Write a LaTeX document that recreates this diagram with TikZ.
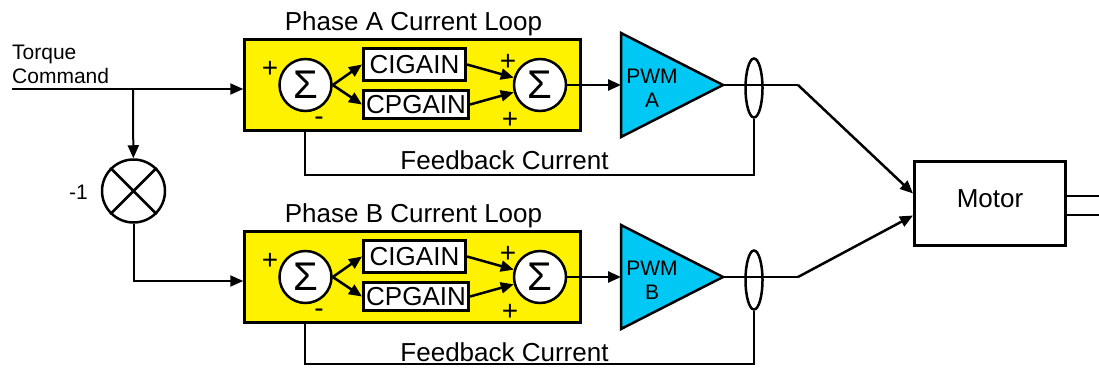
\documentclass[tikz,border=0pt]{standalone}
\usepackage{fontspec}
\setmainfont{Liberation Sans}
\usetikzlibrary{calc, positioning, shapes.geometric, arrows.meta}

\definecolor{pwmblue}{RGB}{0,200,245}

\tikzset{
	wire/.style = {line width=2.5pt},
	sig/.style = {wire, -{Triangle[length=13pt, width=11pt]}},
	loopbox/.style = {draw, fill=yellow, line width=2.5pt, minimum width=336, minimum height=91},
	gainbox/.style = {draw, fill=white, line width=3pt, inner sep=0pt, font=\fontsize{26}{26}\selectfont},
	sumnode/.style = {circle, draw, fill=white, line width=2.5pt, minimum size=52, inner sep=0pt, font=\fontsize{40}{40}\selectfont},
	signtxt/.style = {font=\fontsize{28}{28}\selectfont, inner sep=0pt},
	labeltxt/.style = {font=\fontsize{26}{26}\selectfont, inner sep=0pt, anchor=base},
	smalltxt/.style = {font=\fontsize{21}{24}\selectfont, inner sep=0pt},
	probering/.style = {ellipse, draw, line width=2.5pt, minimum width=17, minimum height=59, inner sep=0pt},
	pwmamp/.style = {draw, fill=pwmblue, line width=2.5pt, line join=miter}
}

\begin{document}
\begin{tikzpicture}[x=1pt, y=-1pt]
	\useasboundingbox (0,0) rectangle (1099,367);
	
	%torque command and inverter
	\coordinate (tq) at (12,89);
	\coordinate (br) at (133,89);
	\node [smalltxt, align=left, anchor=north west] (tqtxt) at (12,45) {Torque\\Command};
	\node [circle, draw, line width=2.5pt, minimum size=63] (mult) at (133.5,191) {};
	\draw [wire] (mult.45) -- (mult.225) (mult.135) -- (mult.-45);
	\node [smalltxt] (neg) at (78.5,192) {-1};
	
	%phase A current loop
	\node [loopbox] (loopA) at (412.5,85) {};
	\node [labeltxt] (titleA) at (413.5,30) {Phase A Current Loop};
	\node [sumnode] (s1A) at (305.5,85) {Σ};
	\node [sumnode] (s2A) at (540,85) {Σ};
	\node [gainbox, minimum width=102, minimum height=32] (ciA) at (414.5,64.5) {CIGAIN};
	\node [gainbox, minimum width=105, minimum height=28] (cpA) at (416,104.5) {CPGAIN};
	\node [signtxt] (pA1) at (270,69) {+};
	\node [signtxt] (mA) at (319,121) {-};
	\node [signtxt] (pA2) at (508,62) {+};
	\node [signtxt] (pA3) at (510,120) {+};
	\draw [sig] (s1A.east) -- (ciA.west);
	\draw [sig] (s1A.east) -- (cpA.west);
	\draw [sig] (ciA.east) -- (s2A);
	\draw [sig] (cpA.east) -- (s2A);
	
	%PWM A and current sensor
	\coordinate (pwmAin) at (621,85);
	\coordinate (pwmAout) at (723,85);
	\draw [pwmamp] (621,33) -- (pwmAout) -- (621,137) -- cycle;
	\node [smalltxt, align=center] (pwmA) at (652,88) {PWM\\A};
	\draw [sig] (s2A.east) -- (pwmAin);
	\node [probering] (ctA) at (754,88) {};
	\coordinate (kA) at (798,85);
	\draw [wire] (pwmAout) -- (kA);
	
	%feedback A
	\coordinate (fbA) at (305,175);
	\draw [wire] (ctA.south) |- (fbA) -- (fbA |- loopA.south);
	\node [labeltxt] (fbtxtA) at (504.5,169) {Feedback Current};
	
	%phase B current loop
	\node [loopbox] (loopB) at (412.5,277) {};
	\node [labeltxt] (titleB) at (413.5,222) {Phase B Current Loop};
	\node [sumnode] (s1B) at (305.5,277) {Σ};
	\node [sumnode] (s2B) at (540,277) {Σ};
	\node [gainbox, minimum width=102, minimum height=32] (ciB) at (414.5,256.5) {CIGAIN};
	\node [gainbox, minimum width=105, minimum height=28] (cpB) at (416,296.5) {CPGAIN};
	\node [signtxt] (pB1) at (270,261) {+};
	\node [signtxt] (mB) at (319,313) {-};
	\node [signtxt] (pB2) at (508,254) {+};
	\node [signtxt] (pB3) at (510,312) {+};
	\draw [sig] (s1B.east) -- (ciB.west);
	\draw [sig] (s1B.east) -- (cpB.west);
	\draw [sig] (ciB.east) -- (s2B);
	\draw [sig] (cpB.east) -- (s2B);
	
	%PWM B and current sensor
	\coordinate (pwmBin) at (621,277);
	\coordinate (pwmBout) at (723,277);
	\draw [pwmamp] (621,225) -- (pwmBout) -- (621,329) -- cycle;
	\node [smalltxt, align=center] (pwmB) at (652,280) {PWM\\B};
	\draw [sig] (s2B.east) -- (pwmBin);
	\node [probering] (ctB) at (754,280) {};
	\coordinate (kB) at (798,277);
	\draw [wire] (pwmBout) -- (kB);
	
	%feedback B
	\coordinate (fbB) at (305,364);
	\draw [wire] (ctB.south) |- (fbB) -- (fbB |- loopB.south);
	\node [labeltxt] (fbtxtB) at (504.5,361) {Feedback Current};
	
	%command paths
	\draw [wire, line width=2pt] (tq) -- (br);
	\draw [sig, line width=2pt] (br) -- (tq -| loopA.west);
	\draw [sig, line width=2pt] (br) -- (mult);
	\draw [sig, line width=2pt] (mult.south) |- ($(loopB.west)+(0,4)$);
	
	%motor
	\node [draw, line width=3pt, minimum width=151, minimum height=84, text depth=10pt, font=\fontsize{26}{26}\selectfont] (motor) at (990,203.5) {Motor};
	\draw [sig] (kA) -- ($(motor.west)+(0,-10)$);
	\draw [sig] (kB) -- ($(motor.west)+(0,12)$);
	\draw [wire] ($(motor.east)+(0,-7.5)$) -- ++(32,0);
	\draw [wire] ($(motor.east)+(0,11.5)$) -- ++(32,0);
\end{tikzpicture}
\end{document}
